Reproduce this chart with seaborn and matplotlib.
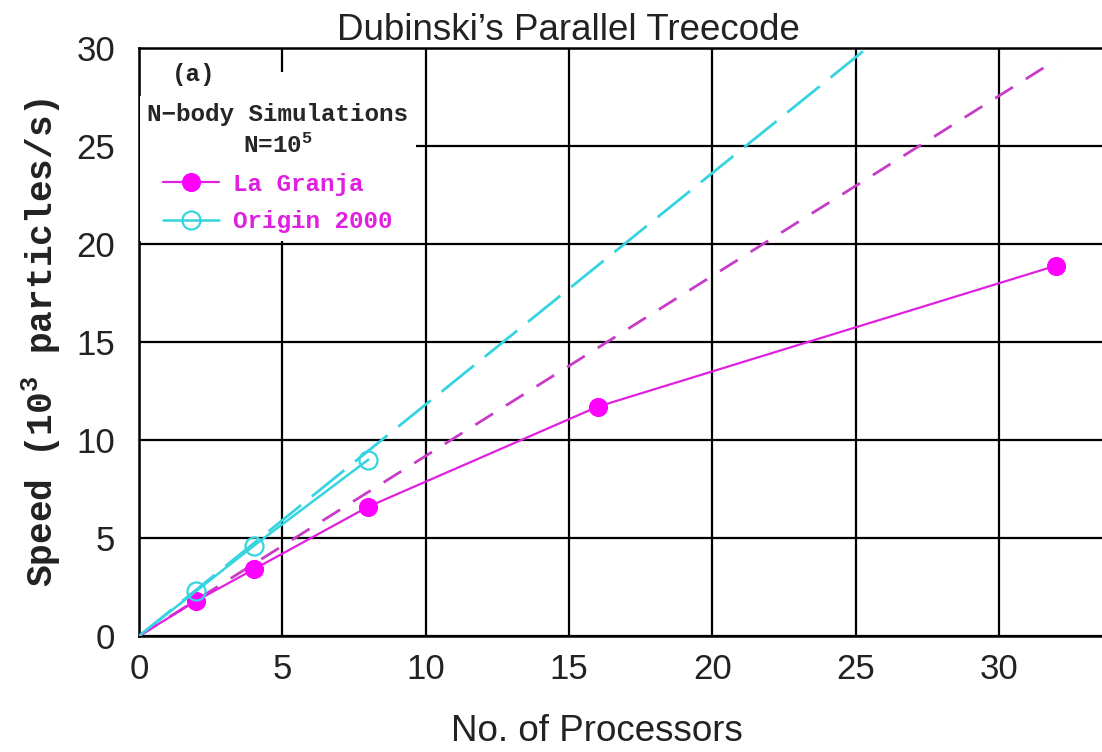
import matplotlib
matplotlib.use("Agg")
import matplotlib.pyplot as plt
from matplotlib.patches import Rectangle
import seaborn as sns
import numpy as np

# ---- data ----
procs_lagranja = [0, 2, 4, 8, 16, 32]
speed_lagranja = [0, 1.8, 3.4, 6.6, 11.7, 18.9]
procs_origin = [0, 2, 4, 8]
speed_origin = [0, 2.3, 4.6, 9.0]
ideal_x = [0, 32]
ideal_lagranja = [0, 29.4]
ideal_origin = [0, 37.8]
xticks = [0, 5, 10, 15, 20, 25, 30]
yticks = [0, 5, 10, 15, 20, 25, 30]

sns.set_theme(style="white")
plt.rcParams["font.family"] = ["Liberation Sans", "DejaVu Sans"]
plt.rcParams["mathtext.fontset"] = "custom"
plt.rcParams["mathtext.rm"] = "Liberation Mono:bold"
plt.rcParams["mathtext.it"] = "Liberation Mono:bold"
plt.rcParams["mathtext.bf"] = "Liberation Mono:bold"
plt.rcParams["mathtext.default"] = "rm"

MAG = "#ff00ff"
MAG_LINE = "#e020e0"
MAG_DASH = "#c83cc8"
CYAN = "#35d4e0"
TXT = "#222222"

W, H = 1102, 752
X0, Y0, Y1 = 139, 636, 48
AXW, AXH = W - X0, Y0 - Y1
fig = plt.figure(figsize=(W / 100, H / 100), dpi=100)
ax = fig.add_axes([X0 / W, 1 - Y0 / H, AXW / W, AXH / H])


def ax_x(px):
    return (px - X0) / AXW


def ax_y(py):
    return (Y0 - py) / AXH


# ideal (dashed) lines
sns.lineplot(x=ideal_x, y=ideal_origin, ax=ax, color=CYAN, lw=2.0,
             dashes=False, linestyle=(0, (15, 5)), zorder=3)
sns.lineplot(x=ideal_x, y=ideal_lagranja, ax=ax, color=MAG_DASH, lw=2.0,
             dashes=False, linestyle=(0, (7.5, 5.5)), zorder=3)

# measured
sns.lineplot(x=procs_lagranja, y=speed_lagranja, ax=ax, color=MAG_LINE, lw=1.6,
             marker="o", markersize=13, markerfacecolor=MAG, markeredgecolor=MAG,
             markevery=list(range(1, len(procs_lagranja))), zorder=4)
sns.lineplot(x=procs_origin, y=speed_origin, ax=ax, color=CYAN, lw=1.8,
             marker="o", markersize=13, markerfacecolor="none", markeredgecolor=CYAN,
             markeredgewidth=1.6, markevery=list(range(1, len(procs_origin))), zorder=4)

lines = ax.get_lines()
h_lg = lines[2]
h_o2k = lines[3]

ax.set_xlim(0, 963 / 28.67)
ax.set_ylim(0, 30)
ax.set_xticks(xticks)
ax.set_yticks(yticks)
ax.grid(True, color="black", lw=1.6)
ax.set_axisbelow(True)
for s in ["left", "bottom", "top"]:
    ax.spines[s].set_color("black")
    ax.spines[s].set_linewidth(1.8)
ax.spines["right"].set_visible(False)
ax.tick_params(axis="both", length=0, labelsize=25, colors=TXT)
ax.tick_params(axis="x", pad=12)
ax.tick_params(axis="y", pad=17)

ax.set_xlabel("No. of Processors", fontsize=26.5, color=TXT)
ax.xaxis.set_label_coords(ax_x(597), ax_y(741))
ax.xaxis.label.set_va("baseline")
ax.set_ylabel("Speed (10$^3$ particles/s)", fontsize=26, fontfamily="Liberation Mono",
              fontweight="bold", color=TXT)
ax.yaxis.set_label_coords(-0.079, 0.5)

fig.text(568 / W, 1 - 40 / H, "Dubinski\u2019s Parallel Treecode", fontsize=26.5,
         ha="center", va="baseline", color=TXT)

# white area behind the legend block
ax.add_patch(Rectangle((ax_x(145), ax_y(100)), ax_x(420) - ax_x(145), ax_y(72) - ax_y(100),
                       transform=ax.transAxes, facecolor="white", edgecolor="none", zorder=4.5))

leg = ax.legend([h_lg, h_o2k], ["La Granja", "Origin 2000"],
                title="N\u2212body Simulations\nN=$10^5$",
                loc="upper left", bbox_to_anchor=(ax_x(140), ax_y(96)), borderaxespad=0,
                frameon=True, fancybox=False, framealpha=1, facecolor="white",
                edgecolor="none", labelcolor=MAG_LINE, handlelength=2.3,
                borderpad=0.3, labelspacing=0.6, handletextpad=0.6,
                prop={"family": "Liberation Mono", "weight": "bold", "size": 17.5},
                title_fontproperties={"family": "Liberation Mono", "weight": "bold", "size": 17.5})
leg.get_title().set_multialignment("center")
leg.get_title().set_linespacing(1.4)
leg.set_zorder(5)

ax.text(ax_x(172), ax_y(75), "(a)", transform=ax.transAxes,
        fontsize=17.5, fontfamily="Liberation Mono", fontweight="bold",
        va="center", ha="left", zorder=10, color=TXT)

fig.savefig("out.png", dpi=100)
